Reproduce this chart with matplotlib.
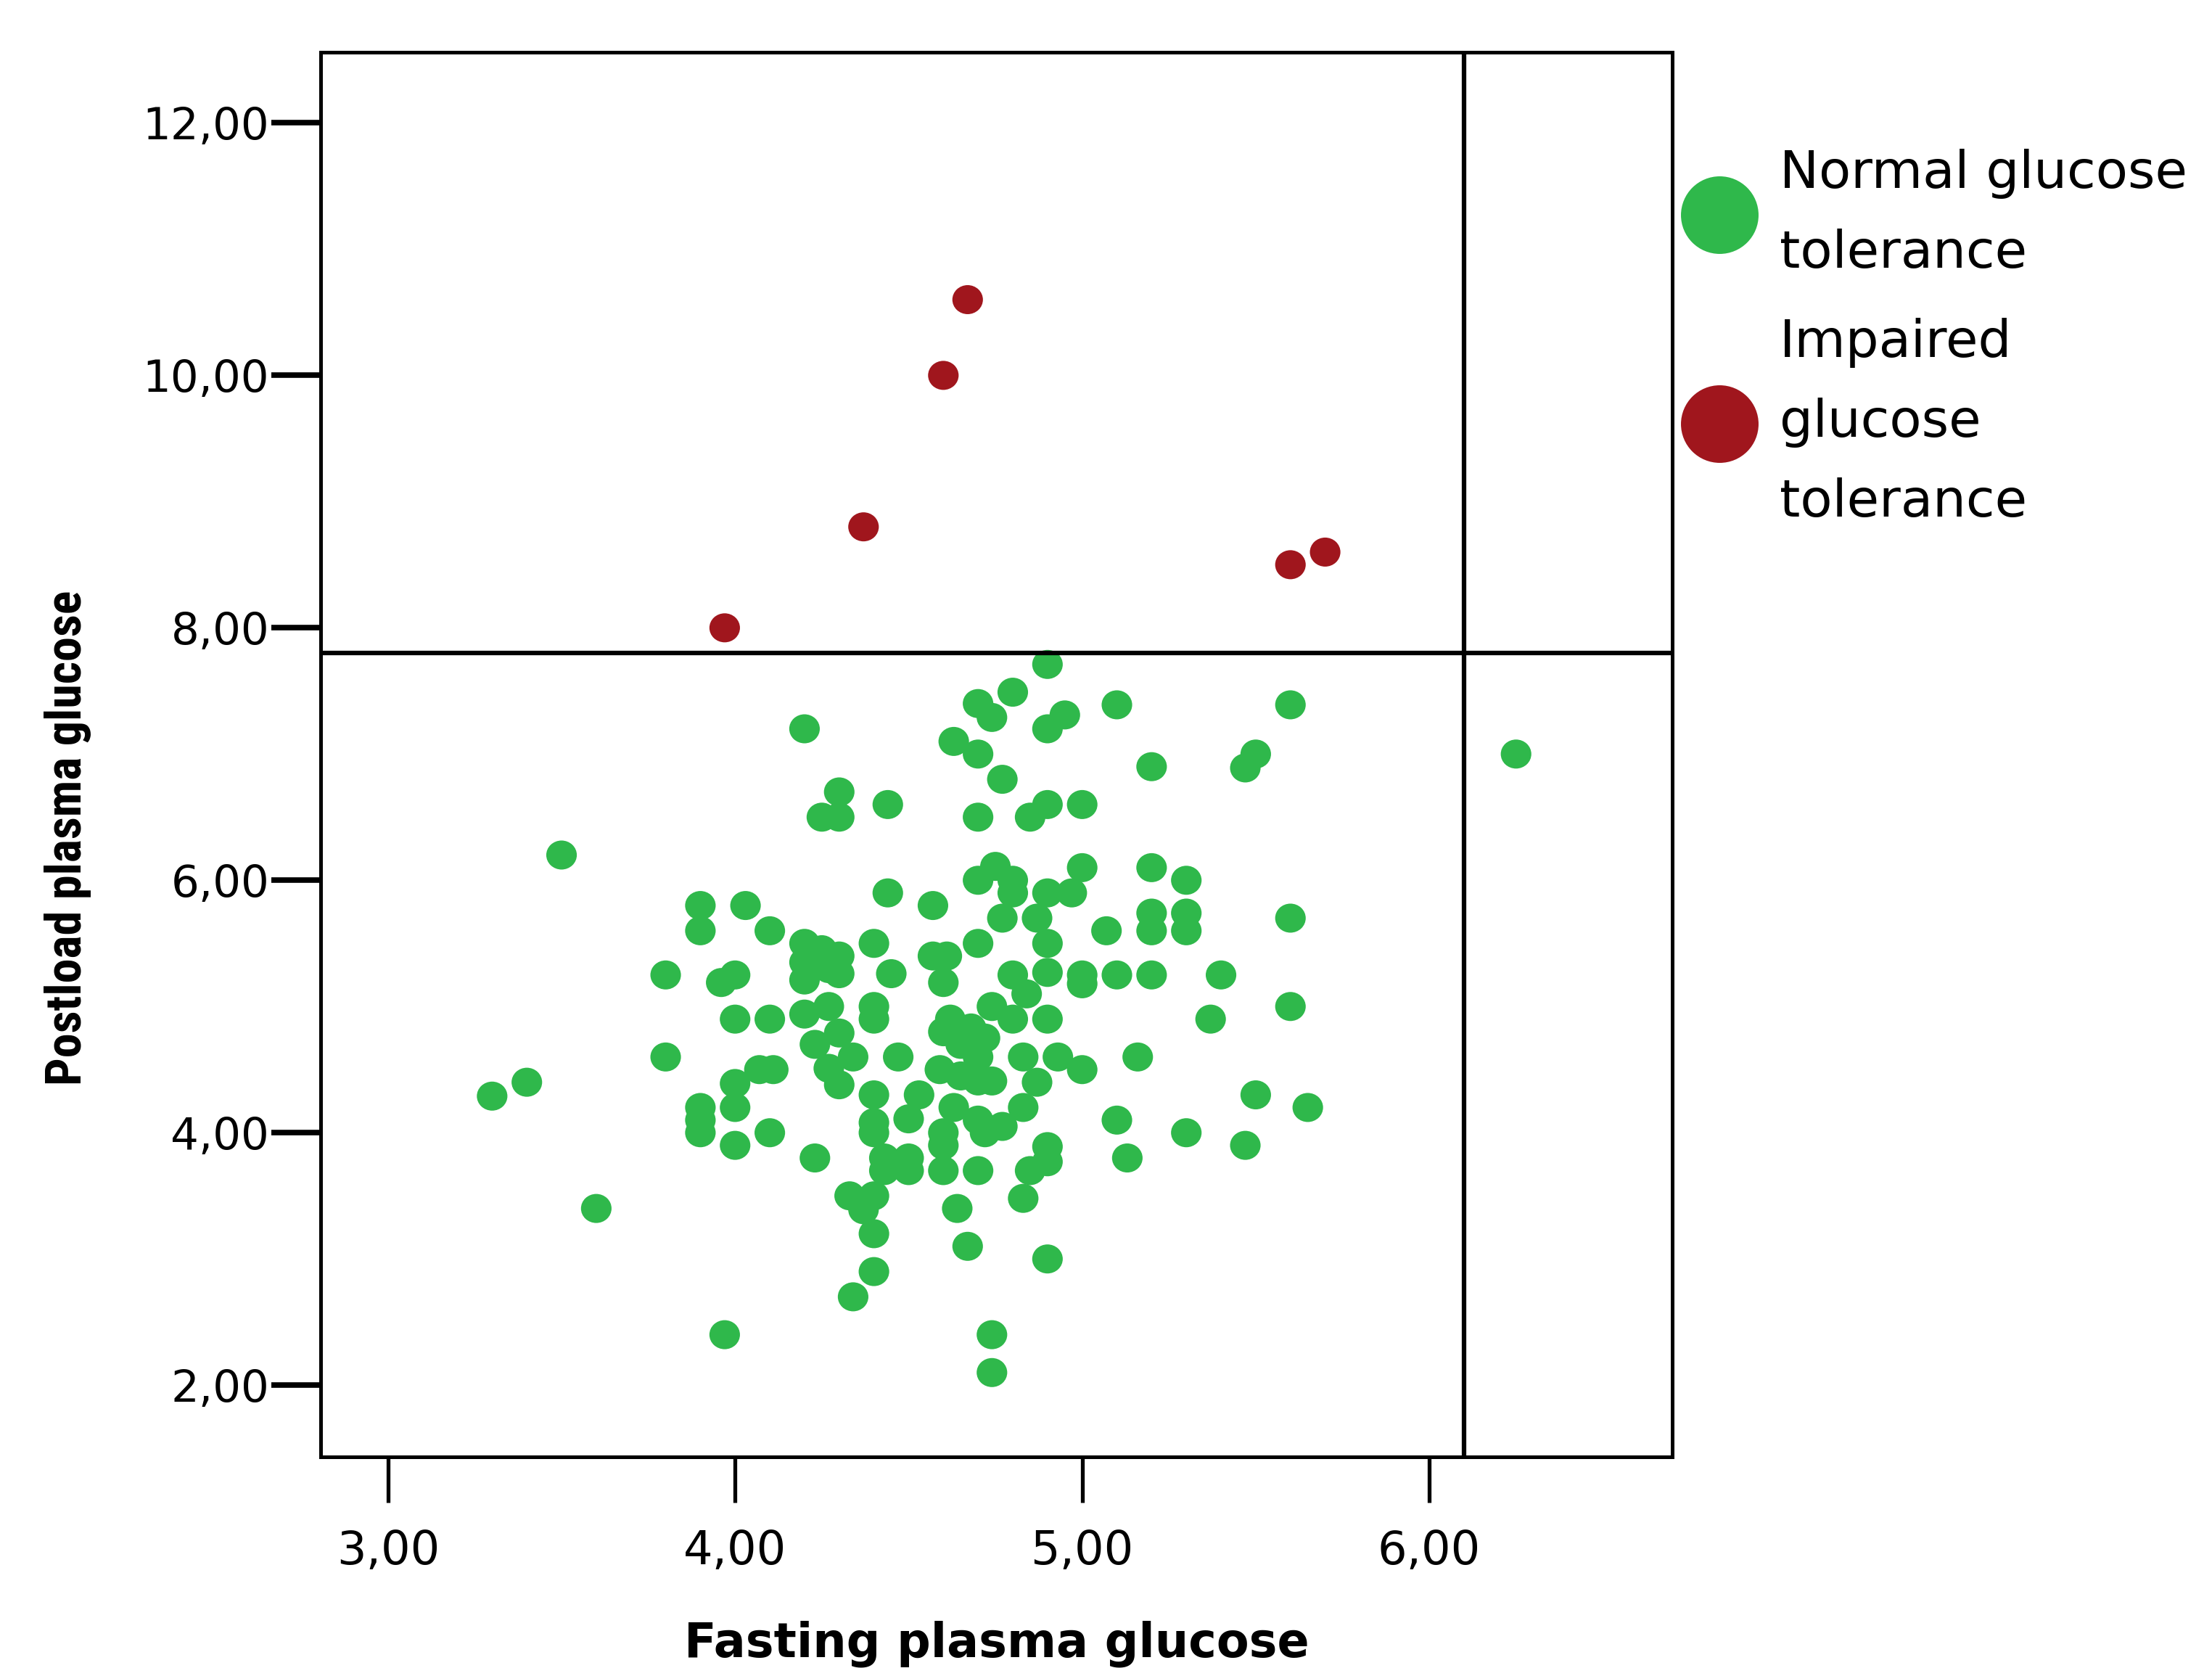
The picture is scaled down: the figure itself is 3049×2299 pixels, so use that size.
import matplotlib
matplotlib.use("Agg")
import matplotlib.pyplot as plt
from matplotlib import font_manager
from matplotlib.path import Path
from matplotlib.lines import Line2D
import numpy as np

# ---------------- data ----------------
ngt_fasting = [
    4.90, 4.80, 4.70, 4.74, 4.95, 4.90, 5.10, 5.60, 4.20, 4.63, 4.70, 5.20, 5.50, 5.47,
    4.77, 4.30, 4.44, 4.25, 4.30, 4.70, 4.85, 4.90, 5.00, 6.25,
    3.50, 4.75, 4.70, 4.80, 4.80, 5.00, 5.20, 5.30, 4.44, 4.57, 4.90, 4.97, 3.90, 4.03,
    3.90, 4.10, 4.77, 4.87, 4.90, 5.07, 5.20, 5.20, 5.30, 5.30, 5.60, 4.70, 4.40, 4.20,
    4.20, 4.20, 4.30, 4.30, 4.45, 4.57, 4.61, 4.60, 3.80, 3.96, 4.00, 4.80, 4.90, 4.84,
    5.00, 5.00, 5.10, 5.20, 5.40, 4.00, 4.10, 4.40, 4.40, 4.27, 4.20, 4.30, 4.23, 4.34,
    4.74, 4.80, 4.68, 4.90, 5.37, 5.60,
    4.47, 4.70, 4.83, 4.93, 5.16, 5.00, 4.87, 3.80, 4.07, 4.11, 4.00, 3.40, 3.30, 4.27,
    4.30, 4.70, 4.74, 4.60, 4.65, 4.59, 4.65, 4.53, 4.40,
    3.90, 3.90, 3.90, 4.00, 4.00, 4.10, 4.23, 4.40, 4.40, 4.50, 4.63, 4.60, 4.60, 4.60,
    4.43, 4.50, 4.43, 4.50, 4.33, 4.40, 4.37, 4.40, 4.64, 4.67, 4.70, 4.77, 4.72, 4.83,
    4.90, 4.90, 4.85, 4.83, 4.70, 5.10, 5.13, 5.30, 5.47, 5.50, 5.65, 3.60, 4.40, 4.34,
    3.97, 4.90, 4.74, 4.74,
    4.25, 4.27, 4.62, 4.72,
]
ngt_postload = [
    7.71, 7.49, 7.40, 7.29, 7.31, 7.20, 7.39, 7.39, 7.20, 7.10, 7.00, 6.90, 7.00, 6.89,
    6.80, 6.70, 6.60, 6.50, 6.50, 6.50, 6.50, 6.60, 6.60, 7.00,
    6.20, 6.11, 6.00, 6.00, 5.90, 6.10, 6.10, 6.00, 5.90, 5.80, 5.90, 5.90, 5.80, 5.80,
    5.60, 5.60, 5.70, 5.70, 5.50, 5.60, 5.74, 5.60, 5.74, 5.60, 5.70, 5.50, 5.50, 5.50,
    5.35, 5.21, 5.40, 5.26, 5.26, 5.40, 5.40, 5.19, 5.25, 5.19, 5.25, 5.25, 5.27, 5.10,
    5.25, 5.18, 5.25, 5.25, 5.25, 4.90, 4.90, 5.00, 4.90, 5.00, 4.94, 4.79, 4.70, 4.60,
    5.00, 4.90, 4.83, 4.90, 4.90, 5.00,
    4.60, 4.60, 4.60, 4.60, 4.60, 4.50, 4.40, 4.60, 4.50, 4.50, 4.39, 4.40, 4.29, 4.51,
    4.38, 4.41, 4.41, 4.80, 4.70, 4.50, 4.45, 4.30, 4.30,
    4.20, 4.10, 4.00, 4.20, 3.90, 4.00, 3.80, 4.08, 4.00, 4.11, 4.20, 4.00, 3.90, 3.70,
    3.80, 3.80, 3.70, 3.70, 3.50, 3.50, 3.39, 3.20, 3.40, 3.10, 4.10, 4.05, 4.00, 4.20,
    3.89, 3.77, 3.70, 3.48, 3.70, 4.10, 3.80, 4.00, 3.90, 4.30, 4.20, 3.40, 2.90, 2.70,
    2.40, 3.00, 2.40, 2.10,
    5.45, 5.30, 4.90, 4.75,
]
igt_fasting = [3.97, 4.37, 4.60, 4.67, 5.60, 5.70]
igt_postload = [8.00, 8.80, 10.00, 10.60, 8.50, 8.60]

fpg_cutoff = 6.1
ogtt_cutoff = 7.8

x_ticks = [3.0, 4.0, 5.0, 6.0]
x_tick_labels = ["3,00", "4,00", "5,00", "6,00"]
y_ticks = [2.0, 4.0, 6.0, 8.0, 10.0, 12.0]
y_tick_labels = ["2,00", "4,00", "6,00", "8,00", "10,00", "12,00"]

group_labels = ["Normal glucose\ntolerance", "Impaired\nglucose\ntolerance"]
x_title = "Fasting plasma glucose"
y_title = "Postload plasma glucose"

# ---------------- style ----------------
GREEN = "#2FB84B"
RED = "#A0161D"

names = {f.name for f in font_manager.fontManager.ttflist}
ylab_font = None
for cand in ["Liberation Sans Narrow", "Roboto Condensed", "Open Sans Condensed",
             "Noto Sans Condensed", "Arial Narrow"]:
    if cand in names:
        ylab_font = dict(family=cand, weight="bold", size=49, stretch="normal")
        break
if ylab_font is None:
    ylab_font = dict(family="DejaVu Sans", weight="bold", size=42, stretch="condensed")

plt.rcParams["font.family"] = ["DejaVu Sans"]

W, H, DPI = 3049, 2299, 100
fig = plt.figure(figsize=(W / DPI, H / DPI), dpi=DPI)
ax_l, ax_r = 442 / W, 2305 / W
ax_b, ax_t = 1 - 2008 / H, 1 - 72 / H
ax = fig.add_axes([ax_l, ax_b, ax_r - ax_l, ax_t - ax_b])

circ = Path.unit_circle()
ell = Path(circ.vertices * np.array([1.0, 0.95]), circ.codes)

ax.scatter(ngt_fasting, ngt_postload, s=920, marker=ell, color=GREEN,
           linewidths=0, edgecolors="none", zorder=2)
ax.scatter(igt_fasting, igt_postload, s=920, marker=ell, color=RED,
           linewidths=0, edgecolors="none", zorder=2)

ax.axvline(fpg_cutoff, color="black", lw=4.5, zorder=3)
ax.axhline(ogtt_cutoff, color="black", lw=4.5, zorder=3)

ax.set_xlim(2.806, 6.700)
ax.set_ylim(1.432, 12.56)

ax.set_xticks(x_ticks)
ax.set_xticklabels(x_tick_labels)
ax.set_yticks(y_ticks)
ax.set_yticklabels(y_tick_labels)
ax.tick_params(axis="x", direction="out", length=45, width=3.8, pad=26,
               labelsize=46, colors="black")
ax.tick_params(axis="y", direction="out", length=49, width=5.5, pad=2,
               labelsize=44, colors="black")

for sp in ax.spines.values():
    sp.set_linewidth(3.6)
    sp.set_color("black")

ax.set_xlabel(x_title, fontsize=47, fontweight="bold")
ax.xaxis.set_label_coords(0.5, -0.133)
ax.xaxis.label.set_verticalalignment("center")

ax.set_ylabel(y_title, fontsize=ylab_font["size"], family=ylab_font["family"],
              fontweight=ylab_font["weight"], fontstretch=ylab_font["stretch"])
ax.yaxis.set_label_coords(-0.187, 0.4406)
ax.yaxis.label.set_verticalalignment("center")

handles = [
    Line2D([], [], ls="", marker="o", markersize=77, color=GREEN, markeredgewidth=0),
    Line2D([], [], ls="", marker="o", markersize=77, color=RED, markeredgewidth=0),
]
leg = ax.legend(handles, group_labels, loc="upper left",
                bbox_to_anchor=(2317 / W, 1 - 205 / H), bbox_transform=fig.transFigure,
                frameon=False, borderpad=0, borderaxespad=0,
                handlelength=1.48, handletextpad=0.40, labelspacing=0.75,
                prop={"family": "DejaVu Sans", "size": 52})
for t in leg.get_texts():
    t.set_linespacing(1.76)

fig.savefig("out.png", dpi=DPI, facecolor="white")
